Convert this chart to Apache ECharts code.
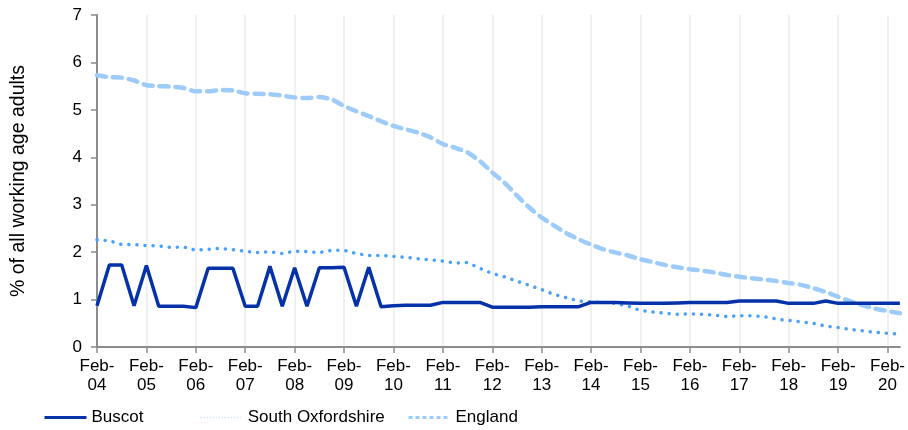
<!DOCTYPE html>
<html>
<head>
<meta charset="utf-8">
<script src="https://cdn.jsdelivr.net/npm/echarts@6/dist/echarts.min.js"></script>
<style>
html,body{margin:0;padding:0;background:#fff;}
#chart{width:908px;height:430px;}
</style>
</head>
<body>
<div id="chart"></div>
<script>
var years = ['04','05','06','07','08','09','10','11','12','13','14','15','16','17','18','19','20'];
var months = ['Feb','May','Aug','Nov'];
var categories = [];
years.forEach(function(y){ months.forEach(function(m){ categories.push(m + '-' + y); }); });
categories = categories.slice(0, 66);

var buscot = [
  0.87,1.73,1.73,0.87, 1.72,0.86,0.86,0.86, 0.83,1.66,1.66,1.66, 0.86,0.86,1.70,0.86,
  1.67,0.86,1.67,1.67, 1.68,0.86,1.68,0.85, 0.87,0.88,0.88,0.88, 0.94,0.94,0.94,0.94,
  0.84,0.84,0.84,0.84, 0.85,0.85,0.85,0.85, 0.94,0.94,0.94,0.93, 0.92,0.92,0.92,0.93,
  0.94,0.94,0.94,0.94, 0.97,0.97,0.97,0.97, 0.92,0.92,0.92,0.97, 0.92,0.92,0.92,0.92,
  0.92,0.92
];
var southOxfordshire = [
  2.26,2.24,2.16,2.16, 2.14,2.13,2.10,2.11, 2.04,2.06,2.08,2.05, 2.02,1.99,2.01,1.97,
  2.02,2.01,1.99,2.04, 2.04,1.97,1.93,1.93, 1.91,1.89,1.86,1.84, 1.81,1.77,1.78,1.66,
  1.55,1.48,1.39,1.30, 1.21,1.11,1.04,0.97, 0.95,0.94,0.92,0.86, 0.77,0.74,0.71,0.69,
  0.70,0.69,0.67,0.64, 0.66,0.66,0.64,0.59, 0.56,0.53,0.50,0.44, 0.41,0.37,0.34,0.31,
  0.29,0.27
];
var england = [
  5.73,5.69,5.68,5.62, 5.52,5.50,5.49,5.46, 5.39,5.39,5.42,5.41, 5.35,5.34,5.33,5.30,
  5.26,5.25,5.27,5.22, 5.08,4.97,4.87,4.76, 4.66,4.59,4.52,4.42, 4.28,4.20,4.10,3.92,
  3.68,3.46,3.19,2.94, 2.73,2.56,2.40,2.27, 2.16,2.06,1.99,1.93, 1.85,1.79,1.73,1.68,
  1.64,1.61,1.57,1.52, 1.48,1.45,1.42,1.39, 1.35,1.31,1.24,1.16, 1.06,0.96,0.88,0.81,
  0.76,0.71
];
var yTicks = [0,1,2,3,4,5,6,7];

var FONT = 'Liberation Sans, Arial, sans-serif';
var chart = echarts.init(document.getElementById('chart'));
var legendText = {fontFamily: FONT, fontSize: 17, color: '#000'};
var hideSym = {color: 'rgba(0,0,0,0)', borderColor: 'rgba(0,0,0,0)', borderWidth: 0, opacity: 0};
function mkLegend(name, left, lineStyle) {
  return {data: [name], left: left, top: 409, padding: 0, itemWidth: 42, itemHeight: 14,
    textStyle: legendText, itemStyle: hideSym, lineStyle: lineStyle};
}
chart.setOption({
  animation: false,
  textStyle: {fontFamily: FONT},
  grid: {left: 97, right: 3, top: 15, bottom: 83, containLabel: false},
  legend: [
    mkLegend('Buscot', 43, {width: 3}),
    mkLegend('South Oxfordshire', 200, {width: 1.5, color: '#c3dcf7', type: [1, 2], cap: 'butt'}),
    mkLegend('England', 407, {width: 3, type: [4, 3], cap: 'butt'})
  ],
  xAxis: {
    type: 'category',
    data: categories,
    boundaryGap: false,
    axisLine: {lineStyle: {color: '#8c8c8c', width: 2}},
    axisTick: {interval: 3, length: 6, lineStyle: {color: '#8c8c8c', width: 1.5}},
    splitLine: {show: true, interval: 3, lineStyle: {color: '#ebebeb', width: 1.5}},
    axisLabel: {
      interval: 3, margin: 10, fontSize: 17, color: '#000', lineHeight: 19,
      formatter: function(v){ var p = v.split('-'); return p[0] + '-\n' + p[1]; }
    }
  },
  yAxis: {
    type: 'value', min: 0, max: 7, interval: 1,
    name: '% of all working age adults', nameLocation: 'middle', nameGap: 68,
    nameTextStyle: {fontSize: 19.5, color: '#000', fontFamily: FONT},
    axisLine: {show: true, lineStyle: {color: '#8c8c8c', width: 2}},
    axisTick: {show: true, length: 6, lineStyle: {color: '#8c8c8c', width: 1.5}},
    splitLine: {show: false},
    axisLabel: {fontSize: 17, color: '#000', margin: 15,
      formatter: function(v){ return yTicks.indexOf(v) >= 0 ? String(v) : ''; }}
  },
  series: [
    {name: 'Buscot', type: 'line', data: buscot, symbol: 'none', z: 3,
     lineStyle: {color: '#0532a8', width: 3.5}, itemStyle: {color: '#0532a8'}},
    {name: 'South Oxfordshire', type: 'line', data: southOxfordshire, symbol: 'none', z: 2,
     lineStyle: {color: '#4ba0f7', width: 3.5, type: [0.1, 8], cap: 'round'}, itemStyle: {color: '#4ba0f7'}},
    {name: 'England', type: 'line', data: england, symbol: 'none', smooth: 0.2, z: 1,
     lineStyle: {color: '#9dcbfa', width: 4.5, type: [9, 7], cap: 'round'}, itemStyle: {color: '#9dcbfa'}}
  ]
});
</script>
</body>
</html>
